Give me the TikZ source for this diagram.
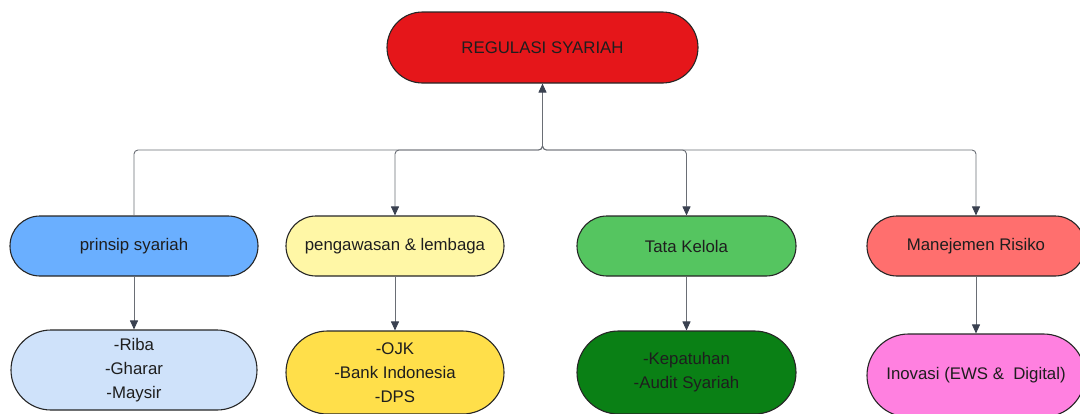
\documentclass[tikz,border=0pt]{standalone}
\usepackage{fontspec}
\setmainfont{Liberation Sans}
\usetikzlibrary{shapes.misc,arrows.meta}
\definecolor{cred}{HTML}{E5161A}
\definecolor{cblue}{HTML}{6AAFFF}
\definecolor{cblueb}{HTML}{CFE2FA}
\definecolor{cyel}{HTML}{FFF7A6}
\definecolor{cyelb}{HTML}{FFDF4A}
\definecolor{cgreen}{HTML}{55C560}
\definecolor{cgreenb}{HTML}{0A8015}
\definecolor{csalmon}{HTML}{FF6F6E}
\definecolor{cpink}{HTML}{FF80E0}
\definecolor{linegray}{HTML}{6A6E75}
\definecolor{tipgray}{HTML}{3A4150}
\definecolor{txt}{HTML}{1E1E1E}
\begin{document}
\begin{tikzpicture}[x=1pt,y=-1pt,
  box/.style={rounded rectangle, draw=black!85, line width=1.1pt, align=center,
    inner sep=0pt, text=txt, font=\fontsize{16.8}{24}\selectfont},
  mid/.style={box, minimum height=60pt},
  low/.style={box, minimum height=83pt},
  conn/.style={draw=linegray, line width=0.9pt, rounded corners=4pt},
  arr/.style={-{Triangle[length=9pt,width=8pt,color=tipgray]}}]
\useasboundingbox (0,0) rectangle (1080,413);

\node[box, fill=cred, minimum width=311pt, minimum height=71pt] (top) at (542.5,47.5) {REGULASI SYARIAH};

\node[mid, fill=cblue, minimum width=248pt] (n1) at (134,246) {prinsip syariah};
\node[mid, fill=cyel, minimum width=218pt] (n2) at (395,246) {pengawasan \& lembaga};
\node[mid, fill=cgreen, minimum width=219pt] (n3) at (686.5,246) {Tata Kelola};
\node[mid, fill=csalmon, minimum width=218pt] (n4) at (976,246) {Manejemen Risiko};

\node[low, fill=cblueb, minimum width=246pt, minimum height=80pt] (b1) at (134,370) {-Riba\\-Gharar\\-Maysir};
\node[low, fill=cyelb, minimum width=218pt] (b2) at (395,372.5) {-OJK\\-Bank Indonesia\\-DPS};
\node[low, fill=cgreenb, minimum width=219pt] (b3) at (686.5,372.5) {-Kepatuhan\\-Audit Syariah};
\node[low, fill=cpink, minimum width=218pt] (b4) at (976,375.5) {Inovasi (EWS \&~~Digital)};

\coordinate (bus) at (543,150);
\draw[conn,arr] (top.south) |- (n2.north |- bus) -- (n2.north);
\draw[conn,arr] (top.south) |- (n3.north |- bus) -- (n3.north);
\draw[conn,arr] (top.south) |- (n4.north |- bus) -- (n4.north);
\draw[conn,arr] (n1.north) |- (top.south |- bus) -- (top.south);

\draw[conn,arr] (n1.south) -- (b1.north);
\draw[conn,arr] (n2.south) -- (b2.north);
\draw[conn,arr] (n3.south) -- (b3.north);
\draw[conn,arr] (n4.south) -- (b4.north);
\end{tikzpicture}
\end{document}
